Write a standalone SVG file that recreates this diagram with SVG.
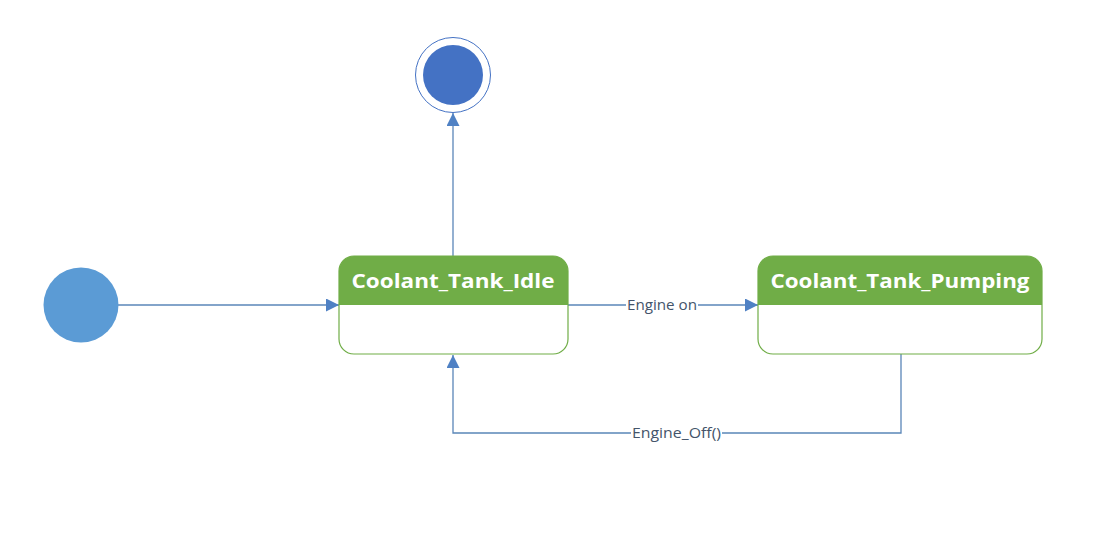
<svg xmlns="http://www.w3.org/2000/svg" width="1093" height="550" viewBox="0 0 1093 550">
<style>
.conn{fill:none;stroke:#5A86B8;stroke-width:1.3}
.hdr{fill:#70AD47}
.body{fill:#fff;stroke:#70AD47;stroke-width:1.2}
.title{font-family:"Open Sans","Liberation Sans",sans-serif;font-weight:bold;font-size:20px;fill:#fff;text-anchor:middle}
.lbl{font-family:"Open Sans","Liberation Sans",sans-serif;font-size:15px;fill:#44546A;text-anchor:middle}
</style>
<defs>
<marker id="arr" viewBox="0 0 13 13" refX="13" refY="6.5" markerWidth="13" markerHeight="13" markerUnits="userSpaceOnUse" orient="auto">
<path d="M0,0 L13,6.5 L0,13 Z" fill="#4F81C4"/>
</marker>
</defs>
<rect width="1093" height="550" fill="#fff"/>
<g id="connectors">
<line class="conn" x1="118" y1="305" x2="339" y2="305" marker-end="url(#arr)"/>
<line class="conn" x1="453" y1="256" x2="453" y2="113" marker-end="url(#arr)"/>
<line class="conn" x1="568" y1="305" x2="626" y2="305"/>
<line class="conn" x1="698" y1="305" x2="758" y2="305" marker-end="url(#arr)"/>
<polyline class="conn" points="901,354 901,433 722,433"/>
<polyline class="conn" points="631,433 453,433 453,355" marker-end="url(#arr)"/>
<text class="lbl" x="662" y="310" textLength="70" lengthAdjust="spacingAndGlyphs">Engine on</text>
<text class="lbl" x="676.5" y="438" textLength="89" lengthAdjust="spacingAndGlyphs">Engine_Off()</text>
</g>
<g id="initial">
<circle cx="81" cy="305" r="37.5" fill="#5B9BD5"/>
</g>
<g id="final">
<circle cx="453" cy="75" r="37.5" fill="#fff" stroke="#4472C4" stroke-width="1"/>
<circle cx="453" cy="75" r="30" fill="#4472C4"/>
</g>
<g id="idle">
<rect class="body" x="339" y="256" width="229" height="98" rx="15"/>
<path class="hdr" d="M339,305 V271 A15,15 0 0 1 354,256 H553 A15,15 0 0 1 568,271 V305 Z"/>
<text class="title" x="453" y="288" textLength="203" lengthAdjust="spacingAndGlyphs">Coolant_Tank_Idle</text>
</g>
<g id="pumping">
<rect class="body" x="758" y="256" width="284" height="98" rx="15"/>
<path class="hdr" d="M758,305 V271 A15,15 0 0 1 773,256 H1027 A15,15 0 0 1 1042,271 V305 Z"/>
<text class="title" x="900" y="288" textLength="259" lengthAdjust="spacingAndGlyphs">Coolant_Tank_Pumping</text>
</g>
</svg>
